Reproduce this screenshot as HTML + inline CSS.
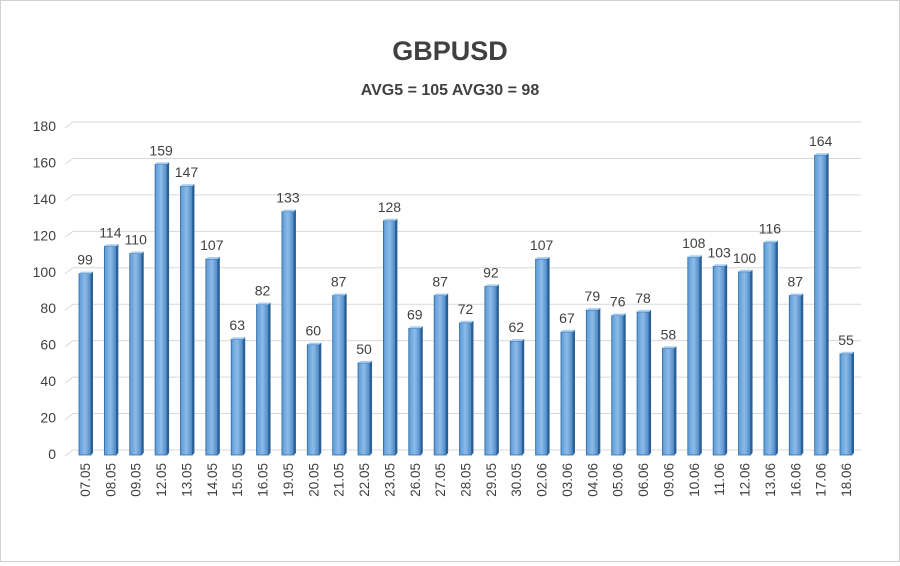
<!DOCTYPE html>
<html><head><meta charset="utf-8"><style>
body{margin:0;background:#fff;}
#wrap{width:898px;height:560px;border:1px solid #d0d0d0;position:relative;background:#fff;}
text{font-family:"Liberation Sans",Arial,sans-serif;}
</style></head><body>
<div id="wrap">
<svg id="chart" width="898" height="560">
<defs>
<linearGradient id="bg" x1="0" x2="1" y1="0" y2="0">
<stop offset="0" stop-color="#5b9bd5"/><stop offset="0.5" stop-color="#8dbbe8"/><stop offset="1" stop-color="#4a86c2"/>
</linearGradient>
</defs>
<text x="449" y="59" text-anchor="middle" font-size="27" font-weight="bold" fill="#404040">GBPUSD</text>
<text x="449" y="94" text-anchor="middle" font-size="16" font-weight="bold" fill="#404040">AVG5 = 105 AVG30 = 98</text>
<g id="grid"></g><g id="bars"></g><g id="labels"></g>
</svg>
</div>
<script>
const categories=["07.05","08.05","09.05","12.05","13.05","14.05","15.05","16.05","19.05","20.05","21.05","22.05","23.05","26.05","27.05","28.05","29.05","30.05","02.06","03.06","04.06","05.06","06.06","09.06","10.06","11.06","12.06","13.06","16.06","17.06","18.06"];
const values=[99,114,110,159,147,107,63,82,133,60,87,50,128,69,87,72,92,62,107,67,79,76,78,58,108,103,100,116,87,164,55];
const yTicks=[0,20,40,60,80,100,120,140,160,180];
const NS="http://www.w3.org/2000/svg";
const svg=document.getElementById('chart');
const y0=452,yMax=180,pxPer=328/180;
function yScale(v){return y0-v*pxPer;}
const x0=70,x1=860;
const step=(845-84)/(categories.length-1);
function xScale(i){return 84+i*step;}
function mk(tag,attrs,parent){const e=document.createElementNS(NS,tag);for(const k in attrs)e.setAttribute(k,attrs[k]);parent.appendChild(e);return e;}
const grid=document.getElementById('grid');
yTicks.forEach(t=>{
  const y=yScale(t)-3;
  const p=mk('polyline',{points:`${x0-6},${y+6} ${x0+2},${y} ${x1},${y}`,fill:'none',stroke:'#d9d9d9','stroke-width':1},grid);
  
  
  const tx=mk('text',{x:55,y:yScale(t)+6,'text-anchor':'end','font-size':14,fill:'#404040'},grid);
  tx.textContent=t;
  
  
});
const bars=document.getElementById('bars'),labels=document.getElementById('labels');
values.forEach((v,i)=>{
  const cx=xScale(i),w=12,top=yScale(v)+1;
  const g=mk('g',{},bars);
  
  
  mk('rect',{x:cx-w/2,y:top,width:w,height:y0+2-top,fill:'url(#bg)',stroke:'#2e6aa6','stroke-width':0.8},g);
  mk('polygon',{points:`${cx-w/2},${top} ${cx-w/2+2},${top-2} ${cx+w/2+2},${top-2} ${cx+w/2},${top}`,fill:'#a9cdf0'},g);
  mk('polygon',{points:`${cx+w/2},${top} ${cx+w/2+2},${top-2} ${cx+w/2+2},${y0} ${cx+w/2},${y0+2}`,fill:'#2c5f94'},g);
  const vt=mk('text',{x:cx,y:top-9,'text-anchor':'middle','font-size':14,fill:'#404040'},labels);
  vt.textContent=v;
  
  
  const ct=mk('text',{x:0,y:0,'text-anchor':'end','font-size':13.5,fill:'#404040',transform:`translate(${cx+5},462) rotate(-90)`},labels);
  ct.textContent=categories[i];
  
  
});
</script>
</body></html>
